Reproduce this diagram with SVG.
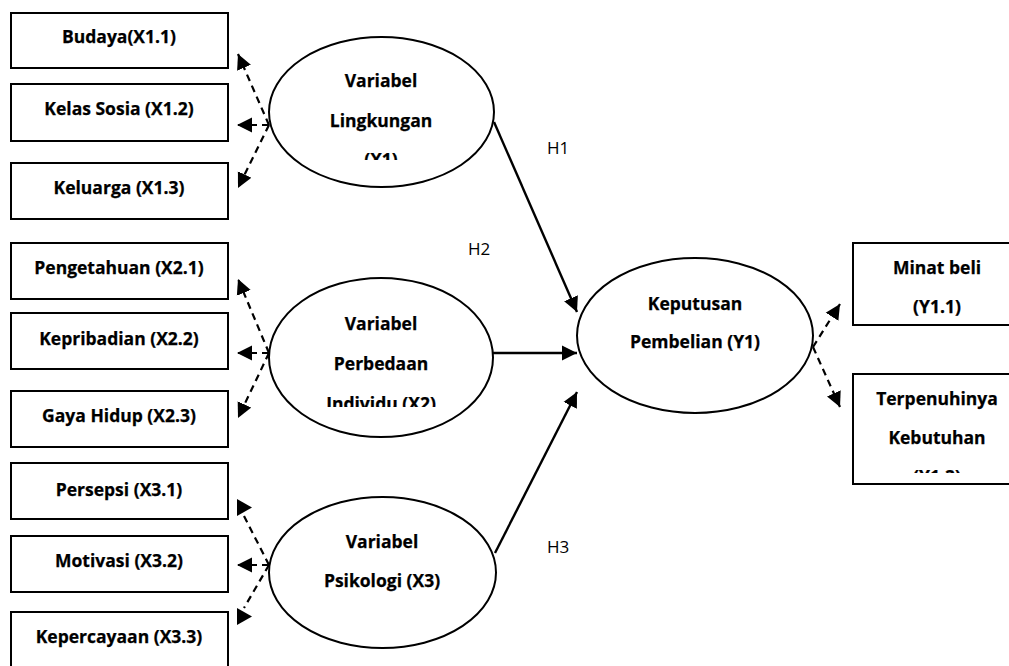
<svg xmlns="http://www.w3.org/2000/svg" width="1009" height="666" viewBox="0 0 1009 666">
<style>
.box{fill:#fff;stroke:#000;stroke-width:2}
.ell{fill:#fff;stroke:#000;stroke-width:2}
.t{font-family:"Open Sans","Liberation Sans",sans-serif;font-weight:bold;font-size:17.5px;fill:#000;text-anchor:middle;stroke:#000;stroke-width:0.25}
.h{font-family:"Open Sans","Liberation Sans",sans-serif;font-size:17px;fill:#000}
.solid{stroke:#000;stroke-width:2.4;fill:none}
.dash{stroke:#000;stroke-width:2.2;fill:none;stroke-dasharray:7 5}
.head{fill:#000}
</style>
<defs>
<marker id="arr" markerUnits="userSpaceOnUse" markerWidth="17" markerHeight="16" refX="15" refY="7.5" orient="auto" viewBox="0 0 17 15">
<path d="M0,0 L15,7.5 L0,15 z" fill="#000"/>
</marker>
<clipPath id="c1"><rect x="260" y="0" width="250" height="160"/></clipPath>
<clipPath id="c2"><rect x="260" y="270" width="250" height="137"/></clipPath>
<clipPath id="c3"><rect x="850" y="370" width="170" height="103"/></clipPath>
</defs>

<g id="connectors">
<line class="solid" x1="494" y1="122" x2="577" y2="312" marker-end="url(#arr)"/>
<line class="solid" x1="493" y1="353" x2="577" y2="353" marker-end="url(#arr)"/>
<line class="solid" x1="495" y1="553" x2="577" y2="392" marker-end="url(#arr)"/>
<line class="dash" x1="269" y1="125" x2="238" y2="54" marker-end="url(#arr)"/>
<line class="dash" x1="269" y1="125" x2="237" y2="125" marker-end="url(#arr)"/>
<line class="dash" x1="269" y1="125" x2="238" y2="188" marker-end="url(#arr)"/>
<line class="dash" x1="269" y1="353" x2="238" y2="279" marker-end="url(#arr)"/>
<line class="dash" x1="269" y1="353" x2="237" y2="353" marker-end="url(#arr)"/>
<line class="dash" x1="269" y1="353" x2="238" y2="418" marker-end="url(#arr)"/>
<line class="dash" x1="269" y1="565" x2="244" y2="516"/>
<polygon class="head" points="237,499 252,507.5 237,516"/>
<line class="dash" x1="269" y1="565" x2="237" y2="565" marker-end="url(#arr)"/>
<line class="dash" x1="269" y1="565" x2="244" y2="608"/>
<polygon class="head" points="237,608 252,616.5 237,625"/>
<line class="dash" x1="813" y1="347" x2="840" y2="304" marker-end="url(#arr)"/>
<line class="dash" x1="813" y1="347" x2="840" y2="407" marker-end="url(#arr)"/>
</g>

<g id="labels">
<text class="h" x="547" y="154">H1</text>
<text class="h" x="468" y="255">H2</text>
<text class="h" x="547" y="553">H3</text>
</g>

<g id="x11"><rect class="box" x="11" y="13" width="217" height="55"/><text class="t" x="119" y="43">Budaya(X1.1)</text></g>
<g id="x12"><rect class="box" x="11" y="84" width="217" height="57"/><text class="t" x="119" y="115">Kelas Sosia (X1.2)</text></g>
<g id="x13"><rect class="box" x="11" y="163" width="217" height="56"/><text class="t" x="119" y="194">Keluarga (X1.3)</text></g>
<g id="x21"><rect class="box" x="11" y="243" width="217" height="56"/><text class="t" x="119" y="274">Pengetahuan (X2.1)</text></g>
<g id="x22"><rect class="box" x="11" y="313" width="217" height="56"/><text class="t" x="119" y="345">Kepribadian (X2.2)</text></g>
<g id="x23"><rect class="box" x="11" y="391" width="217" height="56"/><text class="t" x="119" y="422">Gaya Hidup (X2.3)</text></g>
<g id="x31"><rect class="box" x="11" y="463" width="217" height="56"/><text class="t" x="119" y="496">Persepsi (X3.1)</text></g>
<g id="x32"><rect class="box" x="11" y="536" width="217" height="56"/><text class="t" x="119" y="567">Motivasi (X3.2)</text></g>
<g id="x33"><rect class="box" x="11" y="612" width="217" height="60"/><text class="t" x="119" y="643">Kepercayaan (X3.3)</text></g>

<g id="X1"><ellipse class="ell" cx="381.5" cy="112" rx="112.5" ry="75"/>
<text class="t" x="381" y="87">Variabel</text>
<text class="t" x="381" y="127">Lingkungan</text>
<text class="t" x="381" y="166" clip-path="url(#c1)">(X1)</text></g>

<g id="X2"><ellipse class="ell" cx="381" cy="357.5" rx="112" ry="79.5"/>
<text class="t" x="381" y="330">Variabel</text>
<text class="t" x="381" y="370">Perbedaan</text>
<text class="t" x="381" y="410" clip-path="url(#c2)">Individu (X2)</text></g>

<g id="X3"><ellipse class="ell" cx="382.5" cy="572.5" rx="113.5" ry="75.5"/>
<text class="t" x="382" y="548">Variabel</text>
<text class="t" x="382" y="587">Psikologi (X3)</text></g>

<g id="Y1"><ellipse class="ell" cx="695" cy="335.5" rx="118" ry="77.5"/>
<text class="t" x="695" y="310">Keputusan</text>
<text class="t" x="695" y="348">Pembelian (Y1)</text></g>

<g id="y11"><rect class="box" x="853" y="243" width="160" height="82"/>
<text class="t" x="937" y="274">Minat beli</text>
<text class="t" x="937" y="313">(Y1.1)</text></g>

<g id="y12"><rect class="box" x="853" y="374" width="160" height="110"/>
<text class="t" x="937" y="405">Terpenuhinya</text>
<text class="t" x="937" y="444">Kebutuhan</text>
<text class="t" x="937" y="483" clip-path="url(#c3)">(Y1.2)</text></g>
</svg>
